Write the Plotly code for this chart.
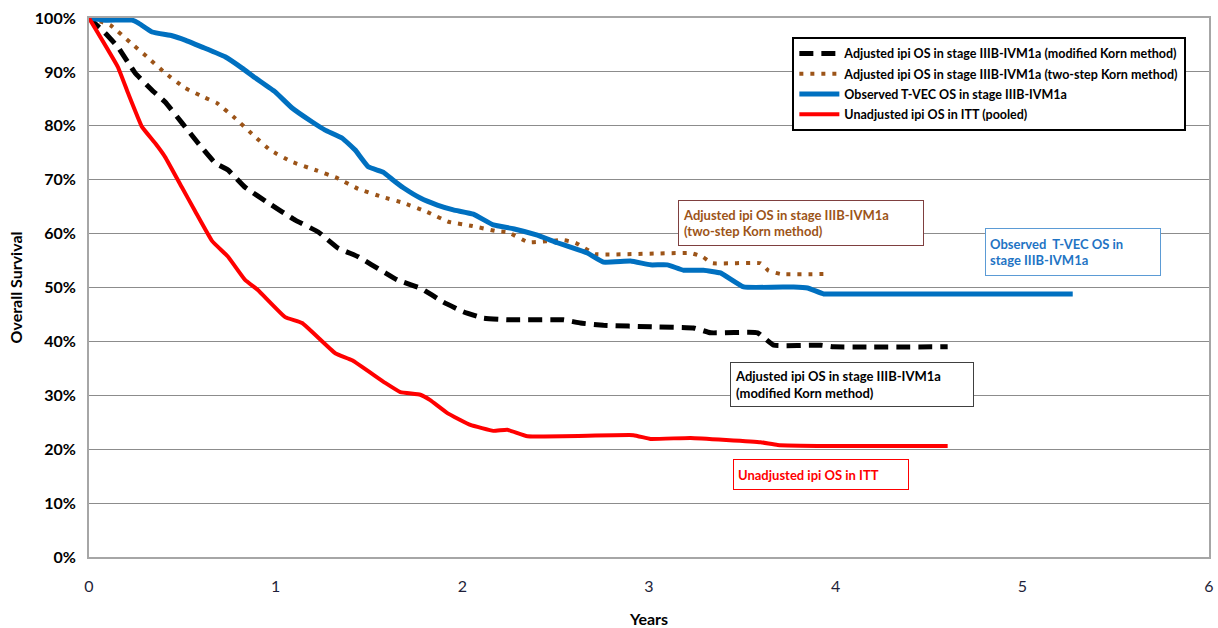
import plotly.graph_objects as go

# ---- data (years, % survival) ----
black_t = [0, 0.086, 0.155, 0.247, 0.338, 0.408, 0.499, 0.584, 0.676, 0.745, 0.836, 0.960,
           1.105, 1.228, 1.335, 1.442, 1.587, 1.651, 1.775, 1.898, 2.005, 2.113, 2.257, 2.542,
           2.633, 2.756, 3.024, 3.239, 3.330, 3.582, 3.668, 3.920, 3.989, 4.60]
black_s = [100, 97.2, 94.6, 89.8, 86.6, 84.4, 80.5, 76.8, 73.1, 71.8, 68.6, 65.7,
           62.5, 60.3, 57.3, 55.7, 52.7, 51.4, 49.9, 47.3, 45.5, 44.3, 44.0, 44.0,
           43.4, 43.0, 42.7, 42.5, 41.6, 41.6, 39.3, 39.3, 39.0, 39.0]

brown_t = [0, 0.113, 0.220, 0.311, 0.408, 0.515, 0.622, 0.686, 0.783, 0.879, 0.971, 1.088,
           1.212, 1.330, 1.442, 1.571, 1.684, 1.812, 1.925, 2.054, 2.177, 2.241, 2.354, 2.542,
           2.606, 2.713, 3.223, 3.287, 3.340, 3.598, 3.641, 3.705, 3.962]
brown_s = [100, 98.7, 95.5, 92.8, 89.8, 87.0, 85.2, 84.2, 81.4, 78.3, 75.5, 73.3,
           71.8, 70.3, 68.3, 66.8, 65.7, 64.0, 62.2, 61.4, 60.5, 60.3, 58.4, 58.8,
           58.3, 56.2, 56.4, 55.7, 54.5, 54.5, 53.1, 52.5, 52.5]

blue_t = [0, 0.086, 0.231, 0.263, 0.338, 0.445, 0.515, 0.606, 0.729, 0.820, 0.890, 0.997,
          1.088, 1.196, 1.265, 1.357, 1.426, 1.496, 1.576, 1.630, 1.684, 1.775, 1.866, 1.952,
          2.059, 2.166, 2.273, 2.402, 2.509, 2.579, 2.670, 2.756, 2.901, 3.008, 3.099, 3.185,
          3.292, 3.383, 3.507, 3.775, 3.850, 3.936, 4.05, 5.27]
blue_s = [100, 99.6, 99.6, 99.1, 97.4, 96.7, 95.9, 94.6, 92.8, 90.7, 88.9, 86.3,
          83.3, 80.7, 79.2, 77.7, 75.5, 72.4, 71.4, 69.9, 68.5, 66.6, 65.3, 64.4,
          63.6, 61.6, 60.9, 59.7, 58.3, 57.5, 56.4, 54.7, 54.9, 54.2, 54.2, 53.2,
          53.2, 52.7, 50.1, 50.1, 49.9, 48.8, 48.8, 48.8]

red_t = [0, 0.155, 0.209, 0.284, 0.354, 0.408, 0.499, 0.568, 0.660, 0.745, 0.836, 0.906,
         1.051, 1.142, 1.319, 1.410, 1.587, 1.668, 1.775, 1.828, 1.920, 2.043, 2.166, 2.241,
         2.349, 2.917, 3.008, 3.223, 3.598, 3.689, 3.957, 4.60]
red_s = [100, 90.9, 86.1, 79.8, 76.8, 74.2, 68.5, 64.2, 58.6, 55.7, 51.4, 49.5,
         44.5, 43.4, 37.8, 36.5, 32.3, 30.6, 30.1, 29.1, 26.7, 24.5, 23.4, 23.6,
         22.4, 22.6, 21.9, 22.1, 21.3, 20.8, 20.6, 20.6]

names = [
    "Adjusted ipi OS in stage IIIB-IVM1a (modified Korn method)",
    "Adjusted ipi OS in stage IIIB-IVM1a (two-step Korn method)",
    "Observed T-VEC OS in stage IIIB-IVM1a",
    "Unadjusted ipi OS in ITT (pooled)",
]

x_ticks = [0, 1, 2, 3, 4, 5, 6]
y_ticks = [0, 10, 20, 30, 40, 50, 60, 70, 80, 90, 100]

FONT = "Lato, 'Liberation Sans', Arial, sans-serif"
BROWN = "#9C5418"
BLUE = "#0070C0"
RED = "#FF0000"
SM = 0.3

fig = go.Figure()
fig.add_trace(go.Scatter(x=black_t, y=black_s, mode="lines", name=names[0], legendgroup="a",
                         line=dict(color="black", width=5, dash="14px,8px", shape="spline", smoothing=SM)))
fig.add_trace(go.Scatter(x=brown_t, y=brown_s, mode="lines", name=names[1], legendgroup="b",
                         line=dict(color=BROWN, width=4, dash="4px,7px", shape="spline", smoothing=SM)))
fig.add_trace(go.Scatter(x=blue_t, y=blue_s, mode="lines", name=names[2], legendgroup="c",
                         line=dict(color=BLUE, width=5, shape="spline", smoothing=SM)))
fig.add_trace(go.Scatter(x=red_t, y=red_s, mode="lines", name=names[3], legendgroup="d",
                         line=dict(color=RED, width=4, shape="spline", smoothing=SM)))

ann_common = dict(xref="x", yref="y", showarrow=False, align="left", bgcolor="white",
                  borderwidth=1, borderpad=4)
fig.add_annotation(x=3.812, y=61.9, text="Adjusted ipi OS in stage IIIB-IVM1a<br>(two-step Korn method)",
                   width=236, height=36, bordercolor="#7F3F3F",
                   font=dict(family=FONT, size=13, color=BROWN, weight="bold"), **ann_common)
fig.add_annotation(x=5.273, y=56.6, text="Observed  T-VEC OS in<br>stage IIIB-IVM1a",
                   width=166, height=38, bordercolor="#5B9BD5",
                   font=dict(family=FONT, size=13, color="#1F74C4", weight="bold"), **ann_common)
fig.add_annotation(x=4.086, y=32.0, text="Adjusted ipi OS in stage IIIB-IVM1a<br>(modified Korn method)",
                   width=234, height=35, bordercolor="#404040",
                   font=dict(family=FONT, size=13, color="black", weight="bold"), **ann_common)
fig.add_annotation(x=3.920, y=15.3, text="Unadjusted ipi OS in ITT",
                   width=166, height=21, bordercolor=RED,
                   font=dict(family=FONT, size=13, color=RED, weight="bold"), **ann_common)

fig.update_layout(
    width=1218, height=628,
    margin=dict(l=89, r=9, t=18, b=71),
    paper_bgcolor="white", plot_bgcolor="white",
    font=dict(family=FONT, color="black"),
    legend=dict(x=0.628, y=0.965, xanchor="left", yanchor="top",
                bgcolor="white", bordercolor="black", borderwidth=2,
                font=dict(family=FONT, size=12.5, color="black", weight="bold"),
                traceorder="grouped", tracegroupgap=1, itemwidth=40),
    showlegend=True,
)
fig.update_xaxes(range=[0, 6], tickvals=x_ticks, ticktext=[str(v) for v in x_ticks],
                 showgrid=False, zeroline=False, showline=True, linecolor="#A6A6A6", linewidth=2,
                 mirror=True, ticks="", ticklabelstandoff=14, automargin=False,
                 tickfont=dict(family=FONT, size=16, color="#1F1F3A"),
                 title=dict(text="<b>Years</b>", font=dict(family=FONT, size=16, color="black"), standoff=20))
fig.update_yaxes(range=[0, 100], tickvals=y_ticks, ticktext=[f"{v}%" for v in y_ticks],
                 showgrid=True, gridcolor="#8C8C8C", gridwidth=1, zeroline=False,
                 showline=True, linecolor="#A6A6A6", linewidth=2, mirror=True, ticks="",
                 ticklabelstandoff=8, automargin=False,
                 tickfont=dict(family=FONT, size=16, color="black", weight="bold"),
                 title=dict(text="<b>Overall Survival</b>", font=dict(family=FONT, size=16, color="black"), standoff=8))

fig.write_html("out.html")
